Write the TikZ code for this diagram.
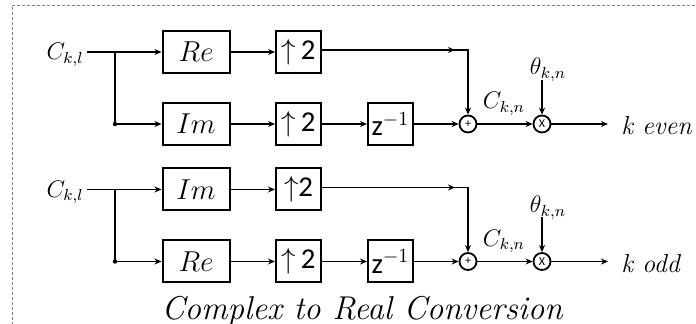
\documentclass[tikz,border=0pt]{standalone}
\usepackage{fontspec}
\newfontfamily\calib{Carlito}
\usetikzlibrary{arrows.meta}
\begin{document}
\begin{tikzpicture}[x=0.5pt,y=-0.5pt,
  blk/.style={draw,line width=1pt,minimum width=33.5pt,minimum height=21pt,inner sep=0pt,font=\Large},
  ups/.style={draw,line width=1pt,minimum width=22.5pt,minimum height=21pt,inner sep=0pt,font=\calib\Large},
  op/.style={draw,circle,line width=0.9pt,minimum size=8.5pt,inner sep=0pt,font=\calib\fontsize{6}{6}\selectfont},
  lab/.style={font=\large,inner sep=0pt},
  wlab/.style={font=\fontsize{13}{15}\selectfont\itshape,inner sep=0pt},
  caplab/.style={font=\fontsize{16.5}{19}\selectfont\itshape,inner sep=0pt},
  wire/.style={line width=0.9pt},
  arr/.style={wire,-{Stealth[length=3.5pt,width=3pt]}}]
\useasboundingbox (0,0) rectangle (696,324);
\draw[gray,dashed,line width=0.4pt,dash pattern=on 1.5pt off 1pt] (12,400) |- (720,5);
\foreach \g/\dy/\ta/\tb/\tc/\out in {A/0/Re/Im/{\calib$\uparrow$\,2}/{k even},B/137.5/Im/Re/{\calib$\uparrow$2}/{k odd}}{
  \begin{scope}[yshift=-\dy*0.5pt]
  \node[lab,anchor=east] (cin\g) at (84,55) {$C_{k,l}$};
  \node[blk] (r1\g) at (196,52) {$\ta$};
  \node[blk] (r2\g) at (196,124) {$\tb$};
  \node[ups] (u1\g) at (298.5,52) {\tc};
  \node[ups] (u2\g) at (298.5,124) {{\calib$\uparrow$\,2}};
  \node[ups] (z\g) at (390.5,124) {{\calib z}$^{-1}$};
  \node[op] (p\g) at (468,124) {+};
  \node[op] (m\g) at (542,124) {X};
  \node[lab] (th\g) at (548,70) {$\theta_{k,n}$};
  \node[lab] (cn\g) at (504,104) {$C_{k,n}$};
  \node[wlab,anchor=west] (o\g) at (621,126) {\out};
  \coordinate (st\g) at (87,52);
  \coordinate (br\g) at (115,52);
  \coordinate (bl\g) at (115,124);
  \coordinate (ha\g) at (455,50);
  \coordinate (hb\g) at (432,50);
  \coordinate (ta\g) at (542,80);
  \coordinate (oe\g) at (608,124);
  \draw[arr] (st\g) -- (r1\g.west);
  \draw[arr] (br\g) -- (bl\g) -- (r2\g.west);
  \fill (bl\g) circle (1.1pt);
  \draw[arr] (r1\g) -- (u1\g);
  \draw[arr] (r2\g) -- (u2\g);
  \draw[arr] (u2\g) -- (z\g);
  \draw[arr] (u1\g.east|-ha\g) -- (ha\g);
  \draw[arr] (hb\g) -| (p\g.north);
  \draw[arr] (z\g.east) -- (p\g.west);
  \draw[arr] (p\g.east) -- (m\g.west);
  \draw[arr] (ta\g) -- (m\g.north);
  \draw[arr] (m\g.east) -- (oe\g);
  \end{scope}
}
\node[caplab] (cap) at (362,311) {Complex to Real Conversion};
\end{tikzpicture}
\end{document}
